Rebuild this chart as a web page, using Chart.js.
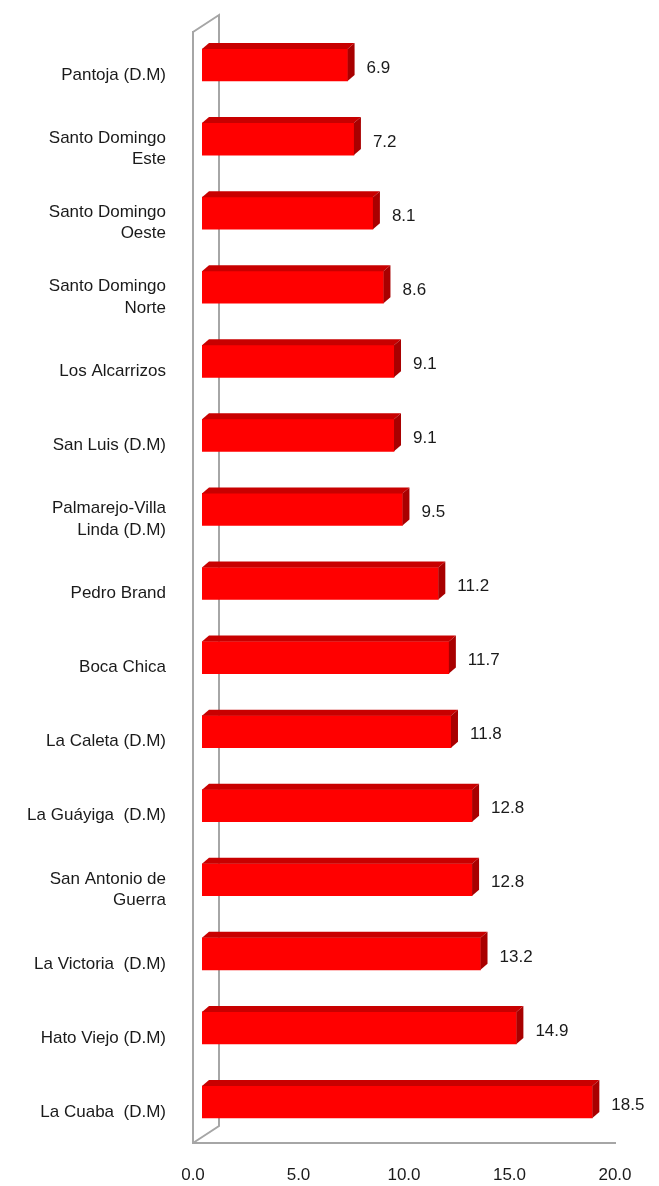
<!DOCTYPE html>
<html>
<head>
<meta charset="utf-8">
<script src="https://cdn.jsdelivr.net/npm/chart.js@4/dist/chart.umd.min.js"></script>
<style>
  html, body { margin: 0; padding: 0; background: #fff; }
  #wrap { width: 659px; height: 1186px; }
</style>
</head>
<body>
<div id="wrap"><canvas id="chart" width="659" height="1186"></canvas></div>
<script>
const categories = [
    'Pantoja (D.M)',
    ['Santo Domingo', 'Este'],
    ['Santo Domingo', 'Oeste'],
    ['Santo Domingo', 'Norte'],
    'Los Alcarrizos',
    'San Luis (D.M)',
    ['Palmarejo-Villa', 'Linda (D.M)'],
    'Pedro Brand',
    'Boca Chica',
    'La Caleta (D.M)',
    'La Guáyiga  (D.M)',
    ['San Antonio de', 'Guerra'],
    'La Victoria  (D.M)',
    'Hato Viejo (D.M)',
    'La Cuaba  (D.M)'
];
const values = [6.9, 7.2, 8.1, 8.6, 9.1, 9.1, 9.5, 11.2, 11.7, 11.8, 12.8, 12.8, 13.2, 14.9, 18.5];
const xTicks = [0, 5, 10, 15, 20];

// 3d look
const shiftX = 9, shiftY = -4;   // bar front face offset from the front axis
const depthX = 7, depthY = 6;    // bar depth
const wallX = 26, wallY = 17;    // back wall depth
const frameColor = '#a6a6a6';

const boxes3d = {
    id: 'boxes3d',
    beforeDatasetsDraw(chart) {
        const ctx = chart.ctx;
        const a = chart.chartArea;
        ctx.save();
        ctx.strokeStyle = frameColor;
        ctx.lineWidth = 2;
        ctx.beginPath();
        ctx.moveTo(a.left, a.top);
        ctx.lineTo(a.left + wallX, a.top - wallY);
        ctx.lineTo(a.left + wallX, a.bottom - wallY);
        ctx.lineTo(a.left, a.bottom);
        ctx.stroke();
        ctx.restore();
    },
    beforeDatasetDraw(chart) {
        chart.ctx.save();
        chart.ctx.translate(shiftX, shiftY);
    },
    afterDatasetDraw(chart) {
        chart.ctx.restore();
    },
    afterDatasetsDraw(chart) {
        const ctx = chart.ctx;
        const meta = chart.getDatasetMeta(0);
        ctx.save();
        meta.data.forEach((bar, i) => {
            const p = bar.getProps(['x', 'y', 'base', 'height'], true);
            const x0 = p.base + shiftX;
            const x1 = p.x + shiftX;
            const top = p.y - p.height / 2 + shiftY;
            const bottom = p.y + p.height / 2 + shiftY;

            // top face
            ctx.fillStyle = '#c80000';
            ctx.beginPath();
            ctx.moveTo(x0, top);
            ctx.lineTo(x0 + depthX, top - depthY);
            ctx.lineTo(x1 + depthX, top - depthY);
            ctx.lineTo(x1, top);
            ctx.closePath();
            ctx.fill();

            // side face
            ctx.fillStyle = '#a80000';
            ctx.beginPath();
            ctx.moveTo(x1, top);
            ctx.lineTo(x1 + depthX, top - depthY);
            ctx.lineTo(x1 + depthX, bottom - depthY);
            ctx.lineTo(x1, bottom);
            ctx.closePath();
            ctx.fill();

            // value label
            ctx.fillStyle = '#1a1a1a';
            ctx.font = '17px "Liberation Sans", Arial, sans-serif';
            ctx.textAlign = 'left';
            ctx.textBaseline = 'middle';
            ctx.fillText(values[i].toFixed(1), x1 + depthX + 12, p.y + shiftY + 3);
        });
        ctx.restore();
    }
};

new Chart(document.getElementById('chart'), {
    type: 'bar',
    data: {
        labels: categories,
        datasets: [{
            data: values,
            backgroundColor: '#ff0000',
            borderWidth: 0,
            barThickness: 32
        }]
    },
    options: {
        indexAxis: 'y',
        responsive: false,
        animation: false,
        layout: { padding: { top: 32, right: 44, left: 0, bottom: 0 } },
        scales: {
            x: {
                min: 0,
                max: 20,
                afterBuildTicks: scale => { scale.ticks = xTicks.map(v => ({ value: v })); },
                afterFit: scale => { scale.height = 43; },
                grid: { display: false, drawTicks: false },
                border: { display: true, color: frameColor, width: 2 },
                ticks: {
                    padding: 22,
                    color: '#1a1a1a',
                    font: { family: '"Liberation Sans", Arial, sans-serif', size: 17 },
                    callback: v => Number(v).toFixed(1)
                }
            },
            y: {
                afterFit: scale => {
                    scale.width = 193;
                    scale.paddingTop = 0;
                    scale.paddingBottom = 0;
                },
                grid: { display: false, drawTicks: false },
                border: { display: true, color: frameColor, width: 2 },
                ticks: {
                    padding: 27,
                    labelOffset: 6,
                    color: '#1a1a1a',
                    font: { family: '"Liberation Sans", Arial, sans-serif', size: 17, lineHeight: 1.25 }
                }
            }
        },
        plugins: {
            legend: { display: false },
            tooltip: { enabled: false }
        }
    },
    plugins: [boxes3d]
});
</script>
</body>
</html>
